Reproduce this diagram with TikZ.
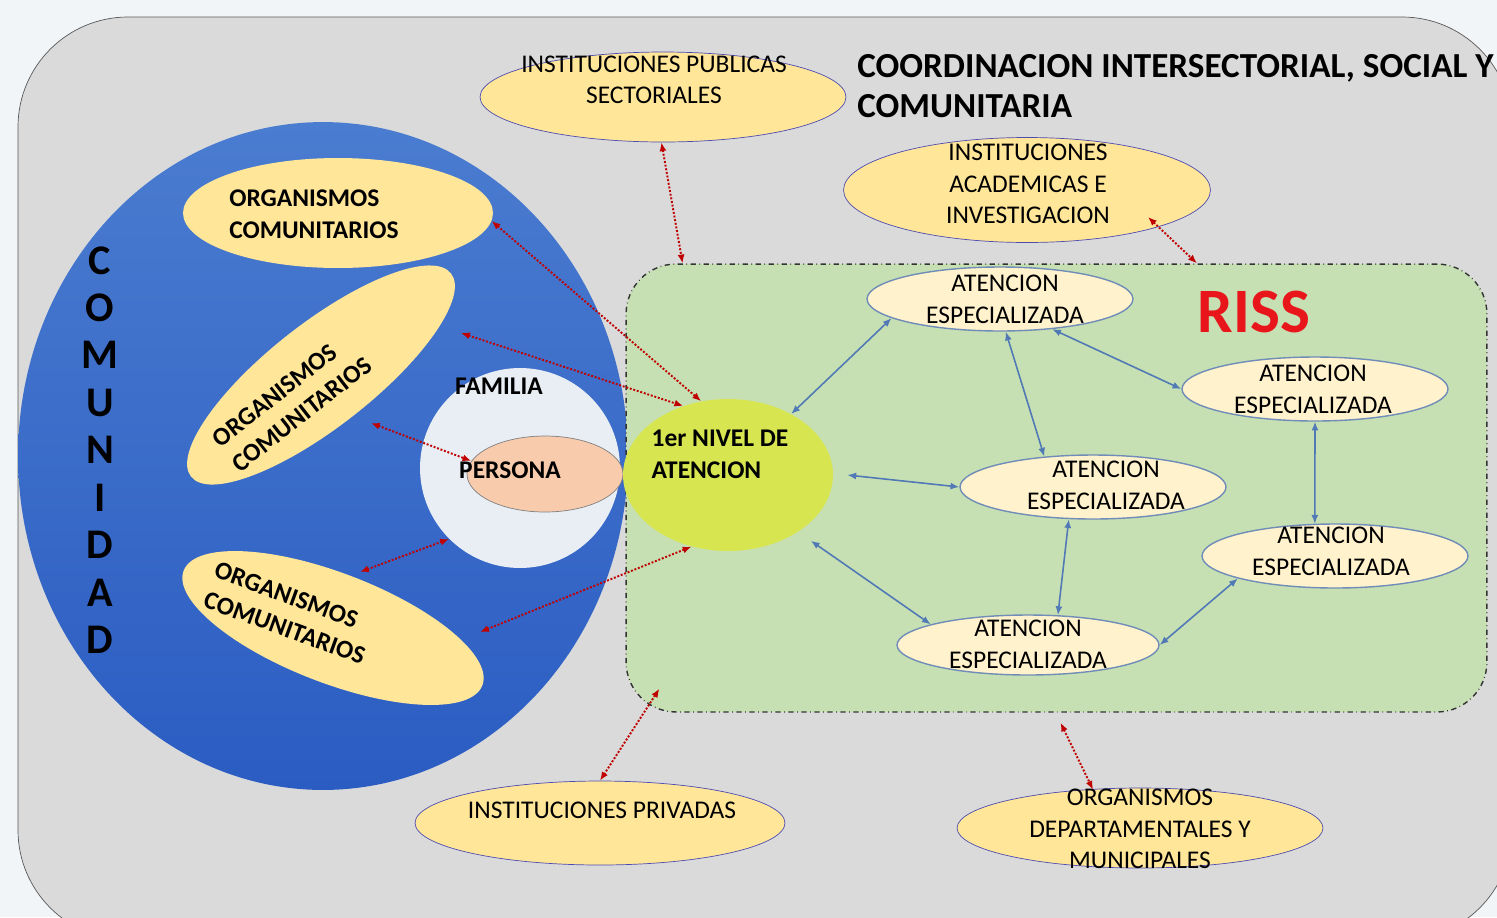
\documentclass[tikz,border=0pt]{standalone}
\usepackage{fontspec}
\setmainfont{Carlito}
\usetikzlibrary{shapes.geometric,arrows.meta,positioning,calc}
\definecolor{bgcol}{HTML}{F1F5F8}
\definecolor{graybox}{HTML}{DADADA}
\definecolor{blueA}{HTML}{4A7CD0}
\definecolor{blueB}{HTML}{2B5CC2}
\definecolor{orgfill}{HTML}{FFE699}
\definecolor{famfill}{HTML}{E9EDF4}
\definecolor{perfill}{HTML}{F8CBAD}
\definecolor{rissfill}{HTML}{C6E0B4}
\definecolor{nivfill}{HTML}{D7E650}
\definecolor{atfill}{HTML}{FFF2CC}
\definecolor{atnedge}{HTML}{6F8DB8}
\definecolor{redarr}{HTML}{C00000}
\definecolor{bluearr}{HTML}{5079B5}
\definecolor{rissred}{HTML}{E8161B}

\begin{document}
\begin{tikzpicture}[x=0.02cm, y=-0.02cm,
    every node/.style={font=\fontsize{14.5}{18}\selectfont},
    orgbox/.style={ellipse, fill=orgfill, inner sep=0pt},
    atnbox/.style={ellipse, draw=atnedge, line width=0.8pt, fill=atfill, minimum width=5.32cm, minimum height=1.28cm, inner sep=0pt},
    lbl/.style={align=center, inner sep=0pt},
    boldlbl/.style={lbl, align=left, font=\bfseries\fontsize{14.5}{18}\selectfont},
    redlink/.style={densely dotted, line width=1.1pt, draw=redarr, {Latex[length=5pt,width=4pt]}-{Latex[length=5pt,width=4pt]}},
    bluelink/.style={line width=0.9pt, draw=bluearr, {Latex[length=5pt,width=4pt]}-{Latex[length=5pt,width=4pt]}}]

    % Background
    \fill[bgcol] (0,0) rectangle (1497,917);
    \useasboundingbox (0,0) rectangle (1497,917);
    \draw[gray!70!black, fill=graybox, rounded corners=2.2cm] (18,17) rectangle (1512,940);

    % Comunidad
    \node[ellipse, top color=blueA, bottom color=blueB, minimum width=12.2cm, minimum height=13.36cm, inner sep=0pt] (com) at (323,456) {};
    \node[orgbox, minimum width=6.2cm, minimum height=2.2cm] (orgA) at (338,213) {};
    \node[orgbox, rotate=38, minimum width=6.6cm, minimum height=2.08cm] (orgB) at (321,375) {};
    \node[orgbox, rotate=-21, minimum width=6.4cm, minimum height=2.2cm] (orgC) at (333,628) {};
    \node[circle, fill=famfill, minimum size=4cm, inner sep=0pt] (fam) at (520,468) {};
    \node[ellipse, draw=gray, fill=perfill, minimum width=3.12cm, minimum height=1.52cm, inner sep=0pt] (per) at (545,474) {};

    % RISS
    \node[draw=gray!40!black, dash dot, line width=0.8pt, fill=rissfill, rounded corners=1cm, minimum width=17.22cm, minimum height=8.96cm] (riss) at (1056.5,488) {};
    \node[ellipse, fill=nivfill, minimum width=4.2cm, minimum height=3.04cm, inner sep=0pt] (niv) at (728,475) {};
    \node[atnbox] (a1) at (1000,299) {};
    \node[atnbox] (a2) at (1315,389) {};
    \node[atnbox] (a3) at (1093,487) {};
    \node[atnbox] (a4) at (1335,556) {};
    \node[atnbox, minimum width=5.24cm, minimum height=1.2cm] (a5) at (1028,645) {};

    % Instituciones
    \node[orgbox, draw=gray!60!blue, minimum width=7.32cm, minimum height=1.8cm] (ips) at (663,97) {};
    \node[orgbox, draw=gray!60!blue, minimum width=7.34cm, minimum height=2.1cm] (iai) at (1027,190) {};
    \node[orgbox, draw=gray!60!blue, minimum width=7.4cm, minimum height=1.68cm] (ipr) at (600,823) {};
    \node[orgbox, draw=gray!60!blue, minimum width=7.32cm, minimum height=1.6cm] (odm) at (1140,828) {};

    % Labels
    \node[lbl] (tIps) at (654,80) {INSTITUCIONES PUBLICAS\\SECTORIALES};
    \node[lbl] (tIai) at (1028,184) {INSTITUCIONES\\ACADEMICAS E\\INVESTIGACION};
    \node[lbl] (tIpr) at (602,810) {INSTITUCIONES PRIVADAS};
    \node[lbl] (tOdm) at (1140,829) {ORGANISMOS\\DEPARTAMENTALES Y\\MUNICIPALES};
    \node[boldlbl] (tOrgA) at (314,214) {ORGANISMOS\\COMUNITARIOS};
    \node[boldlbl, rotate=38] (tOrgB) at (292,402) {ORGANISMOS\\COMUNITARIOS};
    \node[boldlbl, rotate=-20] (tOrgC) at (290,613) {ORGANISMOS\\COMUNITARIOS};
    \node[boldlbl] (tFam) at (499,386) {FAMILIA};
    \node[boldlbl] (tPer) at (510,470) {PERSONA};
    \node[boldlbl] (tNiv) at (720,454) {1er NIVEL DE\\ATENCION};
    \node[lbl] (t1) at (1005,299) {ATENCION\\ESPECIALIZADA};
    \node[lbl] (t2) at (1313,389) {ATENCION\\ESPECIALIZADA};
    \node[lbl] (t3) at (1106,485) {ATENCION\\ESPECIALIZADA};
    \node[lbl] (t4) at (1331,551) {ATENCION\\ESPECIALIZADA};
    \node[lbl] (t5) at (1028,644) {ATENCION\\ESPECIALIZADA};
    \node[lbl, font=\bfseries\fontsize{24}{27}\selectfont] (tCom) at (100,450) {C\\O\\M\\U\\N\\I\\D\\A\\D};
    \node[lbl, anchor=west, align=left, font=\bfseries\fontsize{20}{23}\selectfont] (title) at (857,86) {COORDINACION INTERSECTORIAL, SOCIAL Y\\COMUNITARIA};
    \node[lbl, text=rissred, font=\bfseries\fontsize{36}{40}\selectfont] (tRiss) at (1254,312) {RISS};

    % Red links
    \draw[redlink] (ips.268) -- (riss.149.7);
    \draw[redlink] ($(iai)+(121,27)$) -- (riss.58);
    \draw[redlink] (orgA.-3) -- (niv.110);
    \draw[redlink] ($(orgB)+(140,-42)$) -- (niv.123);
    \draw[redlink] ($(orgB)+(50,48)$) -- (per.170);
    \draw[redlink] ($(orgC)+(27,-56)$) -- (fam.225);
    \draw[redlink] ($(orgC)+(147,4)$) -- (niv.243);
    \draw[redlink] ($(riss.south west)+(34,-24)$) -- (ipr.north);
    \draw[redlink] ($(riss.south)+(4,10)$) -- ($(odm.north)+(-47,2)$);

    % Blue links
    \draw[bluelink] (niv.44) -- (a1.190);
    \draw[bluelink] (a1.-80) -- (a3.148);
    \draw[bluelink] (a1.-30) -- (a2.west);
    \draw[bluelink] ($(niv.east)+(14,0)$) -- (a3.west);
    \draw[bluelink] (a2.south) -- (a4.122);
    \draw[bluelink] (a3.233) -- (a5.45);
    \draw[bluelink] ($(niv.-40)+(14,8)$) -- (a5.168);
    \draw[bluelink] (a4.193) -- (a5.east);
\end{tikzpicture}
\end{document}
